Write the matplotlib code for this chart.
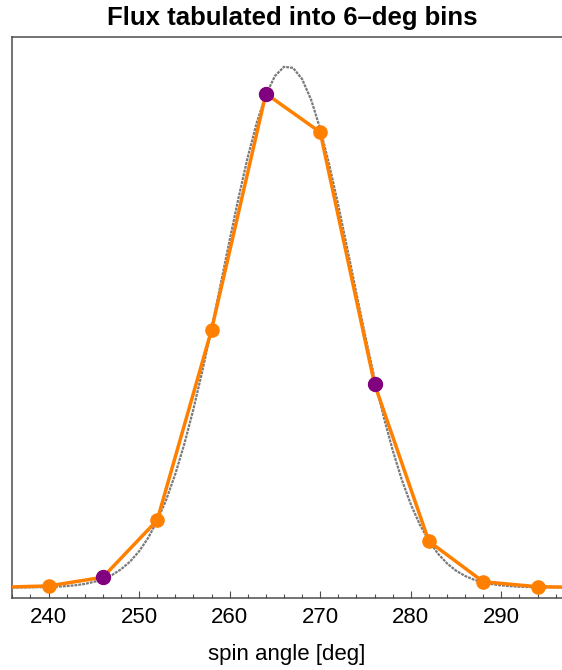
import matplotlib
matplotlib.use("Agg")
import matplotlib.pyplot as plt
from matplotlib.ticker import MultipleLocator

plt.rcParams['font.family'] = ['Liberation Sans', 'DejaVu Sans']

# Underlying flux profile (1-deg steps)
profile_angle = list(range(236, 298))
profile_flux = [0.0001, 0.0002, 0.0003, 0.0006, 0.0010, 0.0017, 0.0027, 0.0044,
                0.0069, 0.0107, 0.0161, 0.0239, 0.0348, 0.0496, 0.0694, 0.0951,
                0.1278, 0.1684, 0.2176, 0.2755, 0.3420, 0.4163, 0.4966, 0.5809,
                0.6661, 0.7488, 0.8253, 0.8917, 0.9445, 0.9808, 0.9984, 0.9964,
                0.9749, 0.9352, 0.8794, 0.8107, 0.7327, 0.6492, 0.5639, 0.4802,
                0.4009, 0.3281, 0.2632, 0.2071, 0.1597, 0.1207, 0.0894, 0.0650,
                0.0463, 0.0323, 0.0221, 0.0149, 0.0098, 0.0063, 0.0040, 0.0025,
                0.0015, 0.0009, 0.0005, 0.0003, 0.0002, 0.0001]

# Flux tabulated into 6-deg bins
bin_angle = [234, 240, 246, 252, 258, 264, 270, 276, 282, 288, 294, 300]
bin_flux = [0.0002, 0.003, 0.0196, 0.129, 0.494, 0.947, 0.873, 0.390,
            0.0886, 0.011, 0.0015, 0.0002]
highlight_angle = [246, 264, 276]

title = "Flux tabulated into 6\u2013deg bins"
xlabel = "spin angle [deg]"

ORANGE = '#FF8000'
PURPLE = '#800080'
GRAY = '#7a7a7a'
FRAME = '#4d4d4d'

fig = plt.figure(figsize=(5.62, 6.70), dpi=100)
ax = fig.add_axes([12.3 / 562, (670 - 598.3) / 670, 1 - 12.3 / 562, (598.3 - 37.3) / 670])

ax.plot(profile_angle, profile_flux, color=GRAY, lw=1.6,
        linestyle=(0, (1.3, 0.45)), zorder=2)
ax.plot(bin_angle, bin_flux, color=ORANGE, lw=2.5, marker='o', ms=9.5,
        mfc=ORANGE, mec=ORANGE, zorder=3, clip_on=True)
hi_flux = [bin_flux[bin_angle.index(a)] for a in highlight_angle]
ax.plot(highlight_angle, hi_flux, linestyle='none', marker='o', ms=10,
        mfc=PURPLE, mec=PURPLE, zorder=4)

ax.set_xlim(236, 296.7)
ax.set_ylim(-0.0207, 1.055)

ax.xaxis.set_major_locator(MultipleLocator(10))
ax.xaxis.set_minor_locator(MultipleLocator(2))
ax.tick_params(axis='x', which='major', direction='in', length=5, width=0.8,
               color=FRAME, labelsize=16, pad=6, top=False)
ax.tick_params(axis='x', which='minor', direction='in', length=3, width=0.8,
               color=FRAME, top=False)
ax.set_yticks([])
ax.tick_params(axis='y', left=False, right=False, labelleft=False)

for s in ['left', 'top', 'bottom']:
    ax.spines[s].set_color(FRAME)
    ax.spines[s].set_linewidth(1.1)
ax.spines['right'].set_visible(False)

ax.set_xlabel(xlabel, fontsize=16, labelpad=12)
fig.text(292 / 562, 1 - 18 / 670, title, ha='center', va='center',
         fontsize=18.5, fontweight='bold')

fig.savefig('out.png', dpi=100)
